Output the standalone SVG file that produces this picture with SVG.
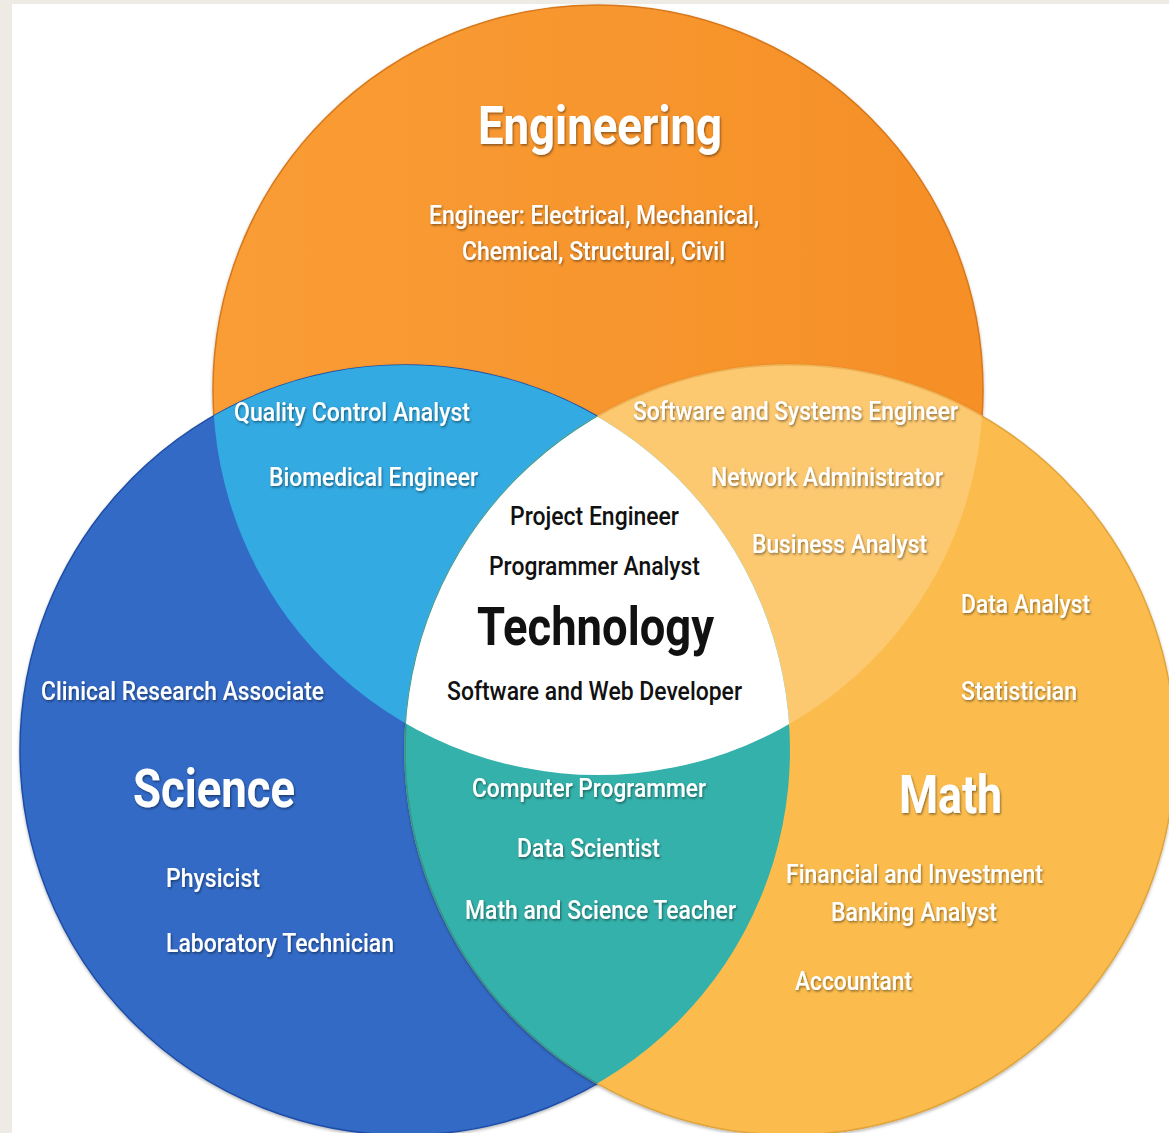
<svg xmlns="http://www.w3.org/2000/svg" width="1169" height="1133" viewBox="0 0 1169 1133">
<defs>
<style>
.t{font-family:Roboto,"Liberation Sans",sans-serif;font-size:25px;font-weight:500;fill:#fff;filter:url(#ts)}
.b{font-weight:bold;font-size:54px}
.k{fill:#111;filter:none}
</style>
<linearGradient id="gE" x1="0" y1="0" x2="1" y2="0">
<stop offset="0" stop-color="#FA9D35"/><stop offset="1" stop-color="#F58F27"/>
</linearGradient>
<clipPath id="cE"><circle cx="598" cy="390" r="385"/></clipPath>
<clipPath id="cS"><circle cx="405" cy="750" r="385"/></clipPath>
<clipPath id="cM"><circle cx="790" cy="750" r="385"/></clipPath>
<filter id="ts" x="-10%" y="-40%" width="120%" height="180%">
<feDropShadow dx="1" dy="1.5" stdDeviation="1.2" flood-color="#000" flood-opacity="0.45"/>
</filter>
<filter id="cs" x="-5%" y="-5%" width="110%" height="110%">
<feDropShadow dx="0" dy="1.5" stdDeviation="1.5" flood-color="#000" flood-opacity="0.3"/>
</filter>
</defs>
<rect x="0" y="0" width="1169" height="1133" fill="#EEEBE4"/>
<rect x="12" y="4" width="1157" height="1129" fill="#fff"/>

<g id="engineering">
<circle cx="598" cy="390" r="385" fill="url(#gE)" stroke="#D7781A" stroke-width="1.5" filter="url(#cs)"/>
</g>
<g id="science">
<circle cx="405" cy="750" r="385" fill="#336BC6" stroke="#1E4DA6" stroke-width="1.5" filter="url(#cs)"/>
</g>
<g id="math">
<circle cx="790" cy="750" r="385" fill="#FBBC4E" stroke="#E0A43C" stroke-width="1.5" filter="url(#cs)"/>
</g>
<g id="eng-sci">
<circle cx="405" cy="750" r="385" fill="#33AAE2" clip-path="url(#cE)"/>
</g>
<g id="eng-math">
<circle cx="790" cy="750" r="385" fill="#FCC870" stroke="#F0B458" stroke-width="1.5" clip-path="url(#cE)"/>
</g>
<g id="sci-math">
<circle cx="790" cy="750" r="385" fill="#33B1AA" stroke="#2A9790" stroke-width="1.5" clip-path="url(#cS)"/>
</g>
<g id="technology">
<g clip-path="url(#cE)">
<circle cx="790" cy="750" r="385" fill="#fff" clip-path="url(#cS)"/>
</g>
</g>
<g id="connectors"/>

<g id="labels-engineering">
<text class="t b" x="478" y="144" textLength="244" lengthAdjust="spacingAndGlyphs">Engineering</text>
<text class="t" x="429" y="224" textLength="330" lengthAdjust="spacingAndGlyphs">Engineer: Electrical, Mechanical,</text>
<text class="t" x="462" y="260" textLength="263" lengthAdjust="spacingAndGlyphs">Chemical, Structural, Civil</text>
</g>
<g id="labels-eng-sci">
<text class="t" x="234" y="421" textLength="236" lengthAdjust="spacingAndGlyphs">Quality Control Analyst</text>
<text class="t" x="269" y="486" textLength="209" lengthAdjust="spacingAndGlyphs">Biomedical Engineer</text>
</g>
<g id="labels-eng-math">
<text class="t" x="633" y="420" textLength="325" lengthAdjust="spacingAndGlyphs">Software and Systems Engineer</text>
<text class="t" x="711" y="486" textLength="232" lengthAdjust="spacingAndGlyphs">Network Administrator</text>
<text class="t" x="752" y="553" textLength="175" lengthAdjust="spacingAndGlyphs">Business Analyst</text>
</g>
<g id="labels-technology">
<text class="t k" x="510" y="525" textLength="169" lengthAdjust="spacingAndGlyphs">Project Engineer</text>
<text class="t k" x="489" y="575" textLength="211" lengthAdjust="spacingAndGlyphs">Programmer Analyst</text>
<text class="t b k" x="477" y="645" textLength="237" lengthAdjust="spacingAndGlyphs">Technology</text>
<text class="t k" x="447" y="700" textLength="295" lengthAdjust="spacingAndGlyphs">Software and Web Developer</text>
</g>
<g id="labels-science">
<text class="t" x="41" y="700" textLength="283" lengthAdjust="spacingAndGlyphs">Clinical Research Associate</text>
<text class="t b" x="133" y="807" textLength="162" lengthAdjust="spacingAndGlyphs">Science</text>
<text class="t" x="166" y="887" textLength="94" lengthAdjust="spacingAndGlyphs">Physicist</text>
<text class="t" x="166" y="952" textLength="228" lengthAdjust="spacingAndGlyphs">Laboratory Technician</text>
</g>
<g id="labels-sci-math">
<text class="t" x="472" y="797" textLength="234" lengthAdjust="spacingAndGlyphs">Computer Programmer</text>
<text class="t" x="517" y="857" textLength="143" lengthAdjust="spacingAndGlyphs">Data Scientist</text>
<text class="t" x="465" y="919" textLength="271" lengthAdjust="spacingAndGlyphs">Math and Science Teacher</text>
</g>
<g id="labels-math">
<text class="t" x="961" y="613" textLength="129" lengthAdjust="spacingAndGlyphs">Data Analyst</text>
<text class="t" x="961" y="700" textLength="116" lengthAdjust="spacingAndGlyphs">Statistician</text>
<text class="t b" x="899" y="813" textLength="103" lengthAdjust="spacingAndGlyphs">Math</text>
<text class="t" x="786" y="883" textLength="257" lengthAdjust="spacingAndGlyphs">Financial and Investment</text>
<text class="t" x="831" y="921" textLength="166" lengthAdjust="spacingAndGlyphs">Banking Analyst</text>
<text class="t" x="795" y="990" textLength="117" lengthAdjust="spacingAndGlyphs">Accountant</text>
</g>
</svg>
